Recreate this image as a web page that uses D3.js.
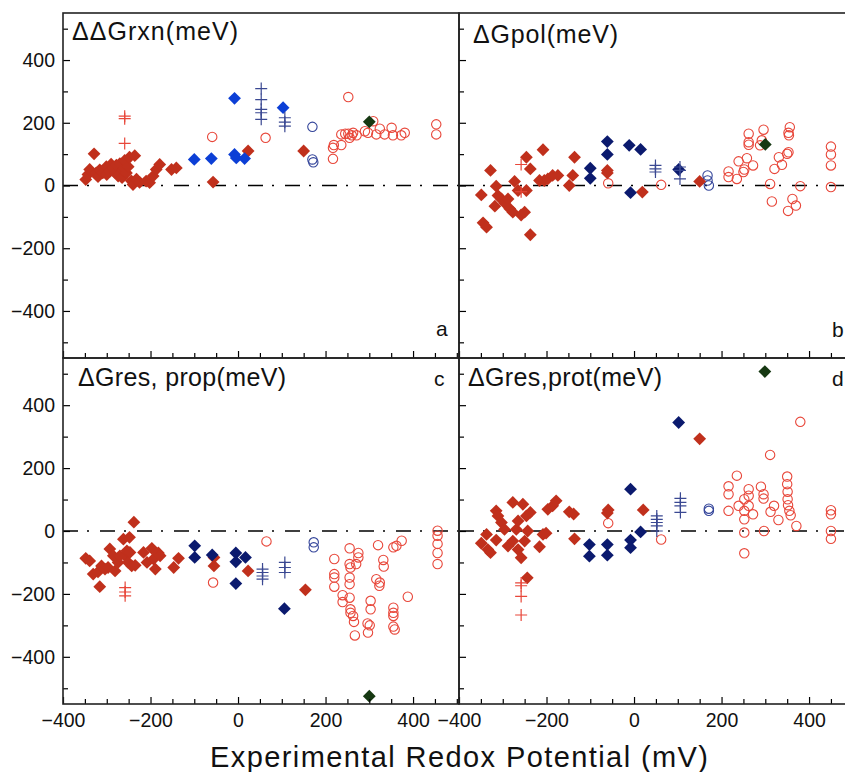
<!DOCTYPE html>
<html>
<head>
<meta charset="utf-8">
<script src="https://cdn.jsdelivr.net/npm/d3@7"></script>
<style>
  body { margin: 0; background: #fff; }
  svg { display: block; font-family: 'Liberation Sans', Arial, Helvetica, sans-serif; }
</style>
</head>
<body>
<svg id="chart" width="845" height="772"></svg>
<script>
// ---- data: [redox potential (mV), energy (meV)] ----

// panel a : ddG rxn
const redDiamA = [[-348, 19], [-343, 35], [-339, 51], [-329, 101], [-324, 40], [-320, 28], [-316, 50], [-309, 40],
  [-301, 60], [-300, 35], [-293, 45], [-290, 68], [-286, 55], [-280, 40], [-278, 65], [-274, 30], [-270, 70],
  [-265, 25], [-263, 50], [-260, 55], [-259, 80], [-255, 40], [-251, 60], [-248, 90], [-244, 15], [-240, 3],
  [-236, 95], [-232, 20], [-225, 10], [-210, 14], [-202, 9], [-194, 30], [-187, 51], [-179, 67], [-152, 51],
  [-141, 56], [-57, 11], [23, 110], [150, 110]]
const blueDiamA = [[-100, 83], [-61, 86], [-8, 278], [-8, 99], [-4, 88], [15, 86], [103, 248]]
const blueCrossA = [[53, 309], [53, 274], [53, 243], [53, 232], [53, 211], [107, 216], [107, 202], [107, 189]]
const redCrossA = [[-259, 221], [-259, 213], [-259, 134]]
const redCircA = [[-59, 155], [63, 152], [252, 282], [217, 85], [217, 120], [219, 129], [236, 129], [236, 163],
  [245, 165], [252, 165], [255, 152], [260, 160], [263, 168], [271, 160], [290, 173], [297, 168], [309, 205],
  [316, 163], [324, 181], [335, 163], [351, 184], [354, 160], [373, 160], [381, 168], [453, 195], [453, 163]]
const blueCircA = [[170, 187], [170, 83], [172, 74]]
const greenA = [[300, 203]]

// panel b : dG pol
const redDiamB = [[-349, -30], [-328, 48], [-315, -2], [-345, -119], [-337, -133], [-311, -32], [-318, -66],
  [-303, -43], [-296, -55], [-288, -43], [-284, -74], [-277, -85], [-273, 13], [-265, -16], [-258, -94],
  [-250, -85], [-246, 90], [-246, -16], [-237, 53], [-237, -157], [-208, 114], [-216, 16], [-205, 16],
  [-197, 21], [-186, 32], [-174, 32], [-148, 0], [-140, 32], [-136, 90], [-61, 48], [-61, 40], [19, -21], [150, 13]]
const navyDiamB = [[-100, 55], [-100, 23], [-61, 140], [-61, 99], [-11, 128], [15, 115], [-8, -23], [102, 51]]
const blueCrossB = [[49, 64], [49, 53], [49, 43], [105, 59], [105, 48], [105, 21]]
const redCrossB = [[-258, 67], [-258, -20]]
const redCircB = [[-59, 7], [62, 2], [216, 45], [216, 27], [235, 21], [239, 77], [250, 43], [252, 51], [258, 87],
  [262, 165], [262, 130], [262, 138], [272, 64], [288, 128], [292, 144], [296, 178], [311, 5], [315, -51],
  [321, 53], [331, 90], [338, 66], [350, 101], [353, 106], [353, 168], [354, 160], [356, 186], [362, -43],
  [352, -81], [370, -64], [380, -2], [450, 124], [450, 99], [450, 64], [450, -5]]
const blueCircB = [[168, 32], [168, 16], [171, 0]]
const greenB = [[300, 131]]

// panel c : dG res, prop
const redDiamC = [[-348, -87], [-339, -95], [-331, -137], [-320, -130], [-316, -177], [-312, -111], [-304, -121],
  [-297, -116], [-293, -57], [-285, -79], [-281, -127], [-274, -100], [-270, -79], [-262, -26], [-258, -79],
  [-254, -63], [-251, -100], [-248, -20], [-247, -68], [-243, -111], [-238, 28], [-235, -109], [-216, -68],
  [-208, -100], [-197, -55], [-193, -89], [-189, -121], [-182, -70], [-178, -79], [-147, -116], [-136, -87],
  [-55, -84], [-55, -111], [23, -127], [154, -187]]
const navyDiamC = [[-99, -47], [-99, -84], [-59, -76], [-5, -70], [-5, -98], [-5, -167], [17, -84], [106, -247]]
const blueCrossC = [[56, -121], [56, -132], [56, -143], [56, -153], [107, -100], [107, -116], [107, -132]]
const redCrossC = [[-258, -180], [-258, -194], [-258, -206]]
const redCircC = [[-57, -164], [65, -33], [220, -89], [220, -137], [220, -148], [220, -177], [239, -204],
  [239, -226], [255, -55], [255, -105], [257, -116], [255, -148], [255, -169], [255, -212], [257, -249],
  [257, -260], [263, -270], [265, -289], [267, -332], [270, -105], [275, -70], [275, -84], [296, -294],
  [297, -323], [301, -300], [303, -222], [303, -249], [320, -45], [316, -153], [323, -174], [324, -164],
  [332, -92], [333, -113], [355, -244], [355, -260], [355, -270], [355, -304], [358, -313], [355, -52],
  [362, -47], [374, -31], [388, -209], [456, 1], [456, -15], [456, -41], [456, -70], [456, -105]]
const blueCircC = [[173, -36], [173, -52]]
const greenC = [[300, -525]]

// panel d : dG res, prot
const redDiamD = [[-349, -39], [-334, -59], [-328, -69], [-337, -11], [-315, -29], [-315, 64], [-311, 48],
  [-303, 27], [-296, 5], [-288, -48], [-277, 91], [-277, -32], [-269, 5], [-265, 32], [-265, -59], [-258, -85],
  [-254, 85], [-250, -32], [-246, 48], [-243, 0], [-237, 59], [-244, -149], [-216, -50], [-208, -11],
  [-201, -7], [-197, 69], [-186, 80], [-178, 96], [-148, 61], [-138, 54], [-136, -25], [-61, 57], [-59, 67],
  [21, 67], [150, 293]]
const navyDiamD = [[-102, -43], [-102, -80], [-61, -43], [-61, -77], [-8, 133], [-8, -29], [-8, -53], [15, -3], [102, 345]]
const blueCrossD = [[52, 48], [52, 37], [52, 27], [52, 16], [52, 0], [106, 104], [106, 91], [106, 80], [106, 59]]
const redCrossD = [[-258, -165], [-258, -174], [-258, -208], [-258, -267]]
const redCircD = [[-59, 25], [62, -27], [216, 142], [216, 117], [216, 64], [235, 176], [239, 80], [252, 101],
  [252, 64], [252, 37], [252, -5], [252, -71], [262, 133], [262, 112], [262, 80], [272, 53], [290, 141],
  [296, 117], [296, 103], [297, 0], [311, 242], [312, 61], [320, 80], [330, 35], [350, 173], [350, 149],
  [351, 125], [351, 101], [352, 82], [355, 64], [358, 50], [371, 16], [380, 347], [450, 66], [450, 53],
  [450, 0], [450, -25]]
const blueCircD = [[171, 71], [171, 64]]
const greenD = [[299, 507]]

const xDomain = [-400, 505]
const yDomain = [-550, 550]
const yMajor = [-400, -200, 0, 200, 400]
const yMinor = [-500, -300, -100, 100, 300, 500]
const xMajor = [-400, -200, 0, 200, 400]
const xMinor = [-350, -300, -250, -150, -100, -50, 50, 100, 150, 250, 300, 350, 450, 500]

const red = '#c0301c'
const brightBlue = '#0c3fd6'
const navy = '#0b1a6e'
const crossBlue = '#3a4892'
const circRed = '#e8473a'
const circBlue = '#34459a'
const green = '#163812'

const panels = [
  { key: 'a', left: 63, top: 13, right: 459, bottom: 358, yLabels: true, xLabels: false,
    title: 'ΔΔGrxn(meV)', tx: 72, ty: 40, tw: 166, corner: [436, 336],
    blueDiam: blueDiamA, blueDiamColor: brightBlue, redDiam: redDiamA, blueCross: blueCrossA,
    redCross: redCrossA, redCirc: redCircA, blueCirc: blueCircA, green: greenA },
  { key: 'b', left: 459, top: 13, right: 855, bottom: 358, yLabels: false, xLabels: false,
    title: 'ΔGpol(meV)', tx: 473, ty: 43, tw: 145, corner: [832, 337],
    blueDiam: navyDiamB, blueDiamColor: navy, redDiam: redDiamB, blueCross: blueCrossB,
    redCross: redCrossB, redCirc: redCircB, blueCirc: blueCircB, green: greenB },
  { key: 'c', left: 63, top: 358, right: 459, bottom: 704, yLabels: true, xLabels: true,
    title: 'ΔGres, prop(meV)', tx: 78, ty: 386, tw: 208, corner: [434, 386],
    blueDiam: navyDiamC, blueDiamColor: navy, redDiam: redDiamC, blueCross: blueCrossC,
    redCross: redCrossC, redCirc: redCircC, blueCirc: blueCircC, green: greenC },
  { key: 'd', left: 459, top: 358, right: 855, bottom: 704, yLabels: false, xLabels: true,
    title: 'ΔGres,prot(meV)', tx: 468, ty: 386, tw: 194, corner: [832, 386],
    blueDiam: navyDiamD, blueDiamColor: navy, redDiam: redDiamD, blueCross: blueCrossD,
    redCross: redCrossD, redCirc: redCircD, blueCirc: blueCircD, green: greenD }
]

const svg = d3.select('#chart')
const diamondPath = 'M0,-6.4L6.4,0L0,6.4L-6.4,0Z'
const crossPath = 'M-6,0H6M0,-6V6'

function drawPanel (p) {
  const x = d3.scaleLinear().domain(xDomain).range([p.left, p.right])
  const y = d3.scaleLinear().domain(yDomain).range([p.bottom, p.top])
  const g = svg.append('g').attr('class', 'panel-' + p.key)

  g.append('clipPath').attr('id', 'clip-' + p.key)
    .append('rect')
    .attr('x', p.left).attr('y', p.top)
    .attr('width', p.right - p.left).attr('height', p.bottom - p.top)

  // zero line, dash-dot
  g.append('line')
    .attr('x1', x(xDomain[0])).attr('x2', x(xDomain[1]))
    .attr('y1', y(0)).attr('y2', y(0))
    .attr('stroke', '#000').attr('stroke-width', 1.5)
    .attr('stroke-dasharray', '15,9,2,11')

  const marks = g.append('g').attr('clip-path', 'url(#clip-' + p.key + ')')

  function symbols (data, path, fill, stroke, sw) {
    marks.append('g').selectAll('path')
      .data(data).enter()
      .append('path')
      .attr('d', path)
      .attr('transform', d => 'translate(' + x(d[0]) + ',' + y(d[1]) + ')')
      .attr('fill', fill)
      .attr('stroke', stroke)
      .attr('stroke-width', sw)
  }

  function circles (data, color) {
    marks.append('g').selectAll('circle')
      .data(data).enter()
      .append('circle')
      .attr('cx', d => x(d[0]))
      .attr('cy', d => y(d[1]))
      .attr('r', 4.7)
      .attr('fill', 'none')
      .attr('stroke', color)
      .attr('stroke-width', 1.1)
  }

  circles(p.redCirc, circRed)
  circles(p.blueCirc, circBlue)
  symbols(p.redDiam, diamondPath, red, 'none', 0)
  symbols(p.blueDiam, diamondPath, p.blueDiamColor, 'none', 0)
  symbols(p.blueCross, crossPath, 'none', crossBlue, 1.2)
  symbols(p.redCross, crossPath, 'none', circRed, 1.2)
  symbols(p.green, diamondPath, green, 'none', 0)

  // axes: inward ticks
  const xAxis = d3.axisBottom(x).tickValues(xMajor).tickSizeInner(-7).tickSizeOuter(0).tickPadding(9)
    .tickFormat(p.xLabels ? d3.format('') : '')
  const xAxisMinor = d3.axisBottom(x).tickValues(xMinor).tickSizeInner(-5).tickSizeOuter(0).tickFormat('')
  const yAxis = d3.axisLeft(y).tickValues(yMajor).tickSizeInner(-7).tickSizeOuter(0).tickPadding(8)
    .tickFormat(p.yLabels ? d3.format('') : '')
  const yAxisMinor = d3.axisLeft(y).tickValues(yMinor).tickSizeInner(-5).tickSizeOuter(0).tickFormat('')

  const ax = g.append('g').attr('transform', 'translate(0,' + p.bottom + ')')
  ax.call(xAxis)
  ax.append('g').call(xAxisMinor)
  const ay = g.append('g').attr('transform', 'translate(' + p.left + ',0)')
  ay.call(yAxis)
  ay.append('g').call(yAxisMinor)
  g.selectAll('.domain').remove()
  g.selectAll('.tick line').attr('stroke', '#000').attr('stroke-width', 1.2)
  g.selectAll('.tick text').attr('font-size', 19.5).attr('fill', '#111')
    .attr('font-family', "'Liberation Sans', Arial, sans-serif")

  // frame
  g.append('rect')
    .attr('x', p.left).attr('y', p.top)
    .attr('width', p.right - p.left).attr('height', p.bottom - p.top)
    .attr('fill', 'none').attr('stroke', '#222').attr('stroke-width', 1.6)

  g.append('text')
    .attr('x', p.tx).attr('y', p.ty)
    .attr('font-size', 25)
    .attr('textLength', p.tw).attr('lengthAdjust', 'spacing')
    .attr('fill', '#111')
    .text(p.title)

  g.append('text')
    .attr('x', p.corner[0]).attr('y', p.corner[1])
    .attr('font-size', 21).attr('fill', '#111')
    .text(p.key)
}

panels.forEach(drawPanel)

svg.append('text')
  .attr('x', 210).attr('y', 767)
  .attr('font-size', 29)
  .attr('textLength', 498).attr('lengthAdjust', 'spacing')
  .attr('fill', '#111')
  .text('Experimental Redox Potential (mV)')
</script>
</body>
</html>
